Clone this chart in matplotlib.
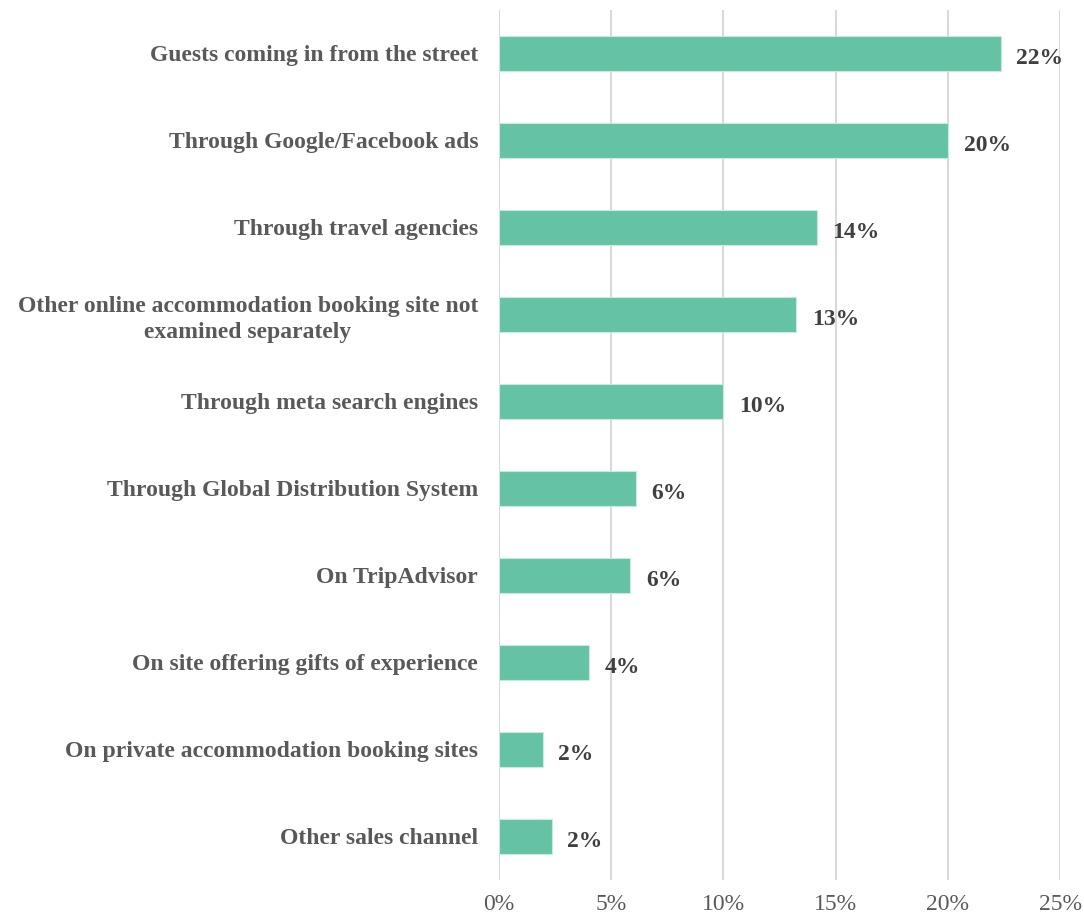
import matplotlib.pyplot as plt
import numpy as np

# Sales channels, share of bookings (%)
channels = [
    'Guests coming in from the street',
    'Through Google/Facebook ads',
    'Through travel agencies',
    'Other online accommodation booking site not\nexamined separately',
    'Through meta search engines',
    'Through Global Distribution System',
    'On TripAdvisor',
    'On site offering gifts of experience',
    'On private accommodation booking sites',
    'Other sales channel',
]
shares = [22.35, 20.0, 14.15, 13.25, 9.98, 6.1, 5.85, 4.02, 1.95, 2.35]
ticks = [0, 5, 10, 15, 20, 25]

plt.rcParams['font.family'] = ['Liberation Serif', 'DejaVu Serif']

fig = plt.figure(figsize=(10.84, 9.18), dpi=100)
ax = fig.add_axes([499 / 1084, 1 - 880 / 918, 561 / 1084, 870 / 918])

y = np.arange(len(channels))
ax.barh(y, shares, height=0.4, color='#66c2a5', edgecolor='#c8ebe0', linewidth=0.8, zorder=3)

# value labels next to each bar
for yi, v in zip(y, shares):
    ax.text(v + 0.7, yi + 0.03, f'{v:.0f}%', va='center_baseline', ha='left',
            fontsize=17, fontweight='bold', color='#404040')

ax.set_ylim(len(channels) - 0.5, -0.5)
ax.set_xlim(0, 25)
ax.set_yticks(y)
ax.set_yticklabels(channels, fontsize=17, fontweight='bold', color='#595959',
                   multialignment='center', va='center_baseline', linespacing=1.3)
ax.set_xticks(ticks)
ax.set_xticklabels([f'{t}%' for t in ticks], fontsize=17, color='#595959')
ax.tick_params(axis='both', length=0)
ax.tick_params(axis='y', pad=15)
ax.tick_params(axis='x', pad=10)

ax.grid(axis='x', color='#d9d9d9', linewidth=1.5, zorder=0)
for s in ax.spines.values():
    s.set_visible(False)

fig.savefig('out.png', dpi=100)
